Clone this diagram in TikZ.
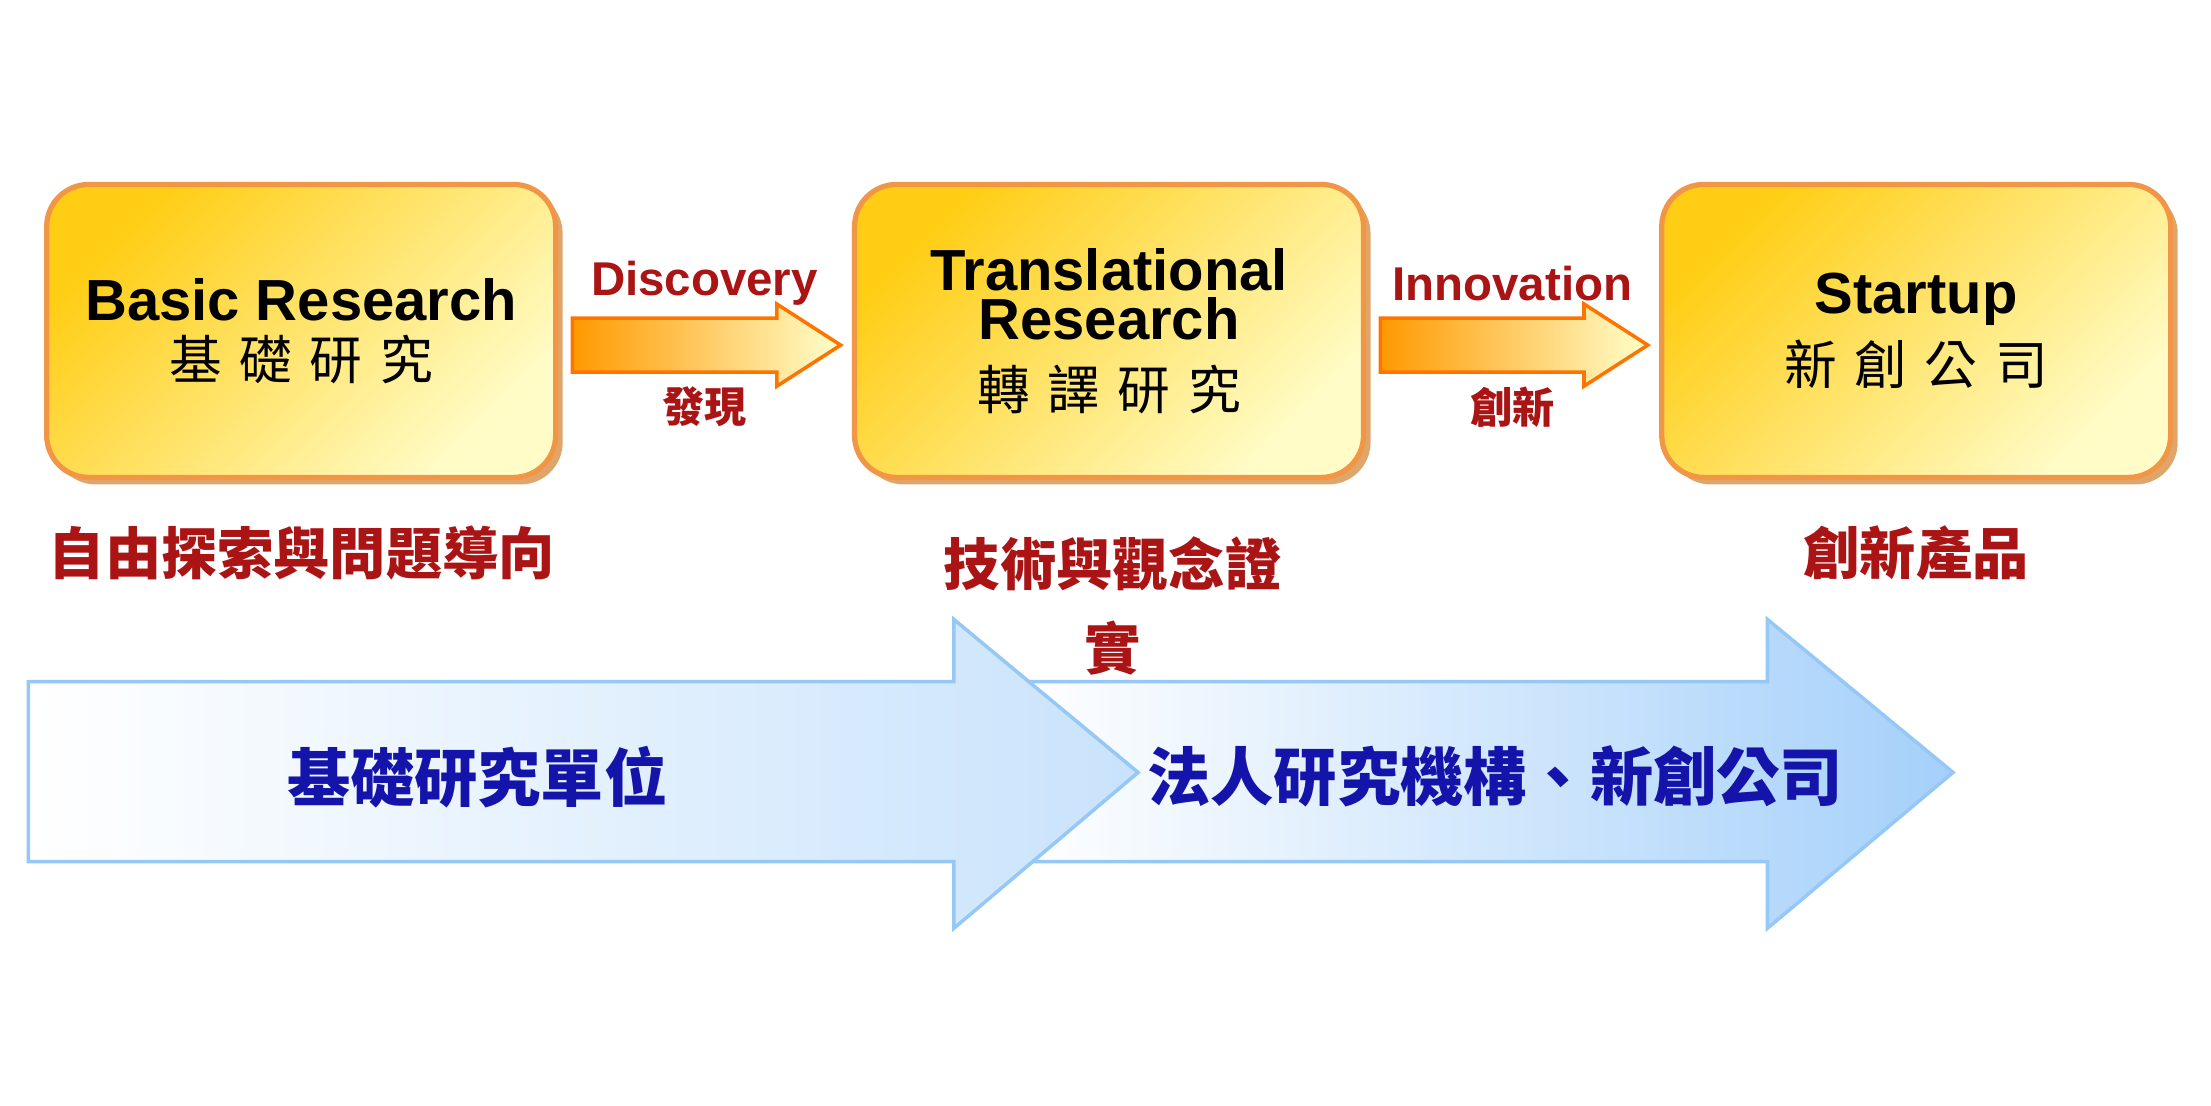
\documentclass[tikz,border=0pt]{standalone}
\usepackage{fontspec}
\setmainfont{Liberation Sans}
\newfontfamily\cjk{Noto Sans CJK TC}
\usetikzlibrary{positioning,calc,shadows}
\definecolor{boxline}{RGB}{240,150,70}
\definecolor{boxgold}{RGB}{255,205,20}
\definecolor{boxpale}{RGB}{255,252,200}
\definecolor{darkred}{RGB}{170,20,20}
\definecolor{bandblue}{RGB}{150,200,245}
\definecolor{bandfill}{RGB}{165,208,250}
\definecolor{textblue}{RGB}{20,20,170}

\begin{document}
\begin{tikzpicture}[
		x=0.01417cm,y=-0.01417cm,
		stagebox/.style={
			draw=boxline,
			line width=1.5pt,
			rounded corners=0.42cm,
			minimum width=5.09cm,
			minimum height=2.93cm,
			align=center,
			left color=boxgold,
			right color=boxpale,
			shading angle=45,
			drop shadow={shadow xshift=2pt,shadow yshift=-2pt,fill=brown!70!orange,opacity=0.7}
		},
		steparrow/.style={
			draw=orange!90!red,
			line width=1pt,
			left color=orange!80!yellow,
			right color=yellow!20
		},
		steplabel/.style={text=darkred,font=\bfseries\fontsize{13.5}{16}\selectfont},
		rednote/.style={text=darkred,font=\cjk\bfseries\fontsize{16}{20}\selectfont,align=center},
		band/.style={
			draw=bandblue,
			line width=1pt,
			left color=white,
			right color=bandfill
		},
		bandlabel/.style={text=textblue,font=\cjk\bfseries\fontsize{18}{22}\selectfont}
		]
		\useasboundingbox (0,0) rectangle (1560,780);
		% stages
		\node[stagebox] (basic) at (212.5,233.5) {{\fontsize{16.5}{20}\selectfont\bfseries Basic Research}\\[3pt]{\cjk\fontsize{15}{18}\selectfont 基\,\,礎\,\,研\,\,究}};
		\node[stagebox] (trans) at (782.5,233.5) {{\fontsize{16.5}{20}\selectfont\bfseries Translational}\\[1pt]{\fontsize{16.5}{20}\selectfont\bfseries Research}\\[6pt]{\cjk\fontsize{15}{18}\selectfont 轉\,\,譯\,\,研\,\,究}};
		\node[stagebox] (start) at (1352,233.5) {{\fontsize{16.5}{20}\selectfont\bfseries Startup}\\[3pt]{\cjk\fontsize{15}{18}\selectfont 新\,\,創\,\,公\,\,司}};
		% step arrows
		\coordinate (d1) at ($(basic.east)+(10,0)$);
		\coordinate (d2) at ($(trans.west)+(-8,0)$);
		\path[steparrow] ($(d1)+(0,10)$) -- ($(d1)+(0,-9)$) -- ($(d2)+(-45,-9)$) -- ($(d2)+(-45,-19)$)
			-- ($(d2)+(0,10)$) -- ($(d2)+(-45,39)$) -- ($(d2)+(-45,29)$) -- ($(d1)+(0,29)$) -- cycle;
		\coordinate (i1) at ($(trans.east)+(10,0)$);
		\coordinate (i2) at ($(start.west)+(-8,0)$);
		\path[steparrow] ($(i1)+(0,10)$) -- ($(i1)+(0,-9)$) -- ($(i2)+(-45,-9)$) -- ($(i2)+(-45,-19)$)
			-- ($(i2)+(0,10)$) -- ($(i2)+(-45,39)$) -- ($(i2)+(-45,29)$) -- ($(i1)+(0,29)$) -- cycle;
		\node[steplabel] (disc) at (497,200) {Discovery};
		\node[steplabel,font=\cjk\bfseries\fontsize{12}{14}\selectfont] (disczh) at (497,287) {發現};
		\node[steplabel] (inno) at (1067,200) {Innovation};
		\node[steplabel,font=\cjk\bfseries\fontsize{12}{14}\selectfont] (innozh) at (1067,287) {創新};
		% notes
		\node[rednote] (n1) at (213,390) {自由探索與問題導向};
		\node[rednote,anchor=north] (n2) at (785,370) {技術與觀念證\\[4pt]實};
		\node[rednote] (n3) at (1352,390) {創新產品};
		% bands
		\path[band] (720,481) -- (1247,481) -- (1247,437) -- (1378,545) -- (1247,655) -- (1247,608) -- (720,608) -- cycle;
		\path[band,right color=bandfill!60] (20,481) -- (673,481) -- (673,437) -- (803,545) -- (673,655) -- (673,608) -- (20,608) -- cycle;
		\node[bandlabel] (u1) at (337,548) {基礎研究單位};
		\node[bandlabel] (u2) at (1055,548) {法人研究機構、新創公司};
		\end{tikzpicture}
\end{document}
